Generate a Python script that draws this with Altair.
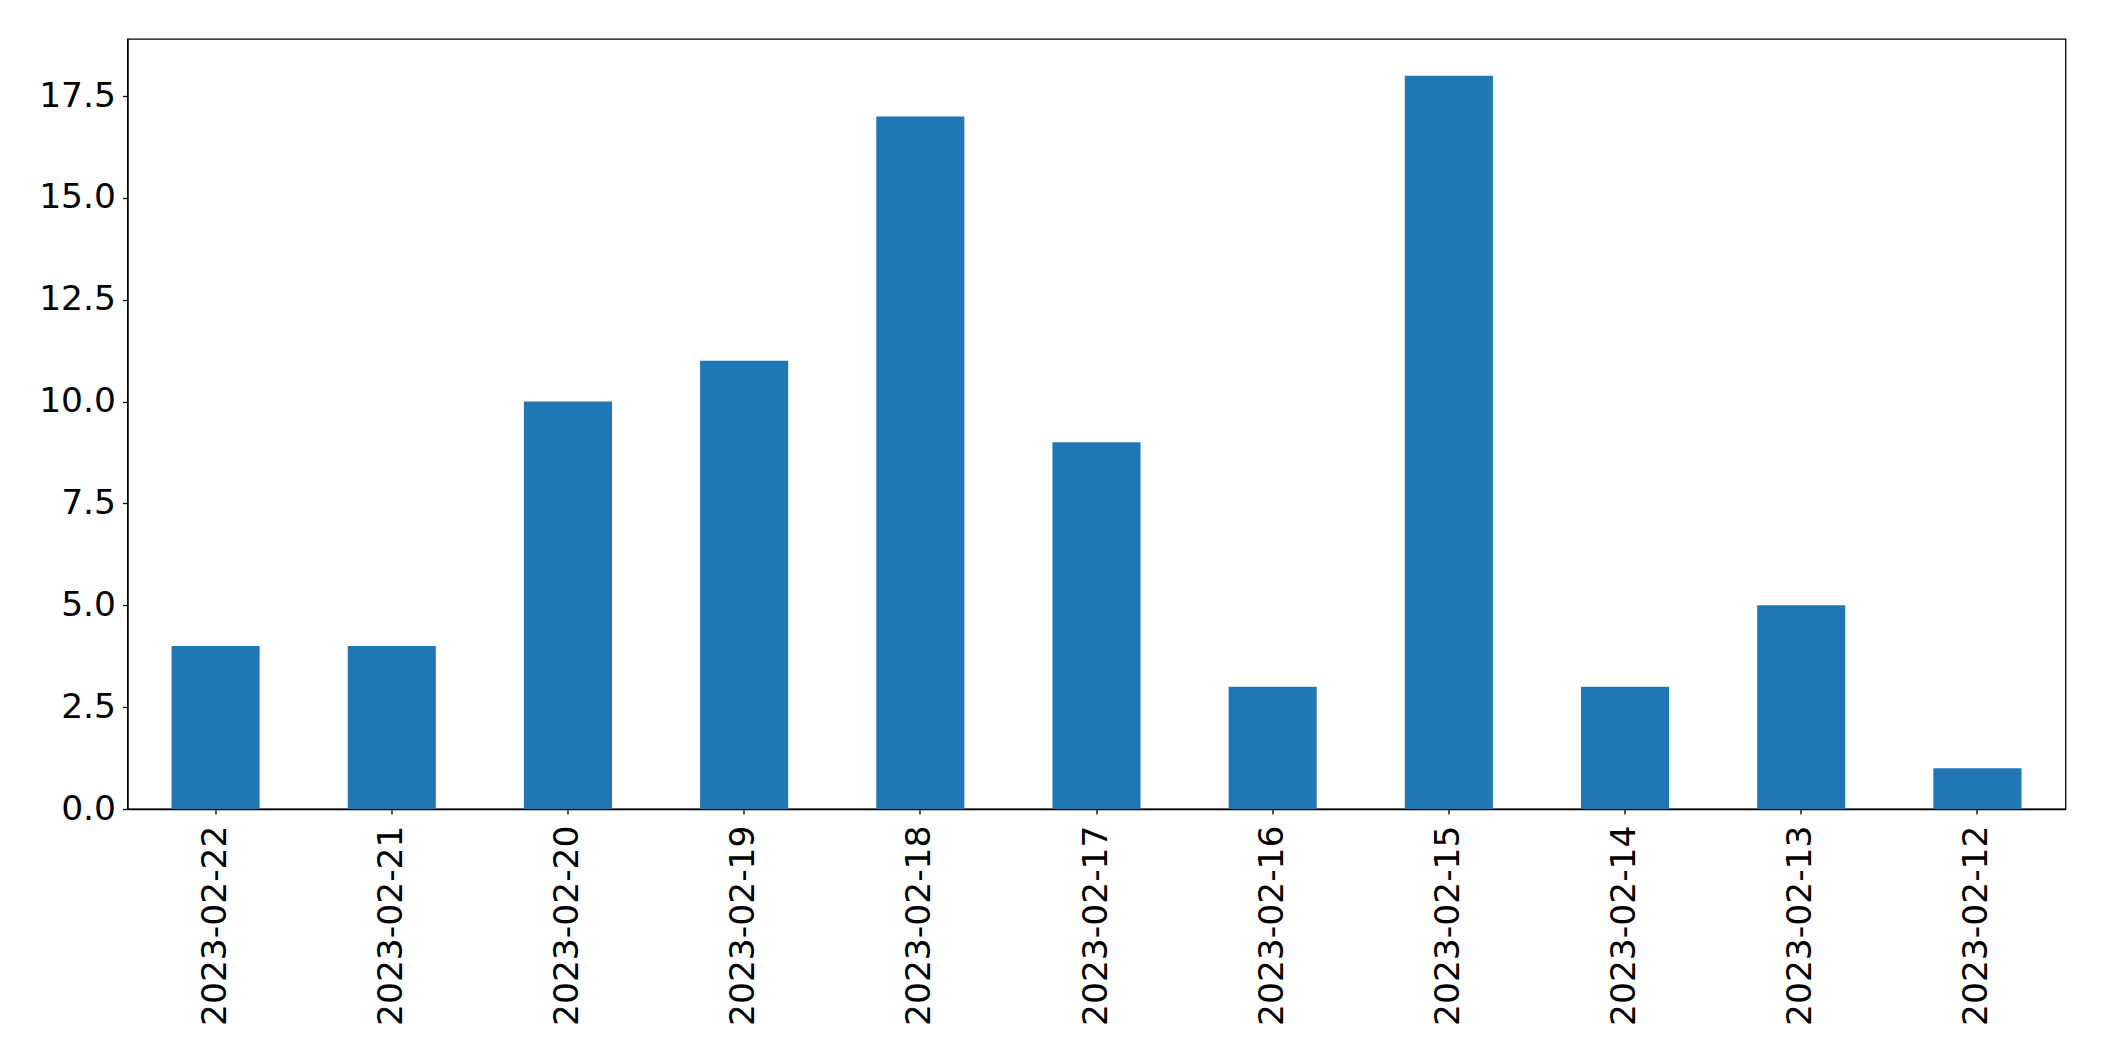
import altair as alt
import pandas as pd

dates = ["2023-02-22", "2023-02-21", "2023-02-20", "2023-02-19", "2023-02-18", "2023-02-17",
         "2023-02-16", "2023-02-15", "2023-02-14", "2023-02-13", "2023-02-12"]
counts = [4, 4, 10, 11, 17, 9, 3, 18, 3, 5, 1]

df = pd.DataFrame({"date": dates, "count": counts})

chart = alt.Chart(df).mark_bar(color="#1f77b4").encode(
    x=alt.X("date:N", sort=dates, title=None,
            scale=alt.Scale(paddingInner=0.5, paddingOuter=0.25),
            axis=alt.Axis(labelAngle=-90, labelFontSize=34.5, labelFont="DejaVu Sans",
                          labelColor="black", tickColor="black", tickSize=5, labelPadding=11,
                          domainColor="black", labelBaseline="middle", labelAlign="right",
                          labelLimit=0)),
    y=alt.Y("count:Q", title=None,
            scale=alt.Scale(domain=[0, 18.9], nice=False, zero=True),
            axis=alt.Axis(values=[0, 2.5, 5, 7.5, 10, 12.5, 15, 17.5], format=".1f",
                          labelFontSize=34.5, labelFont="DejaVu Sans", labelColor="black",
                          tickColor="black", tickSize=5, labelPadding=7, domainColor="black",
                          grid=False)),
).properties(
    width=1938, height=770,
    autosize=alt.AutoSizeParams(type="none"),
    padding={"left": 119.5, "top": 31, "right": 30, "bottom": 240},
).configure_view(stroke="black", strokeWidth=1.3).configure_axis(domainWidth=1.3, tickWidth=1.3)

chart.save("out.html", embed_options={"renderer": "svg", "actions": False})
